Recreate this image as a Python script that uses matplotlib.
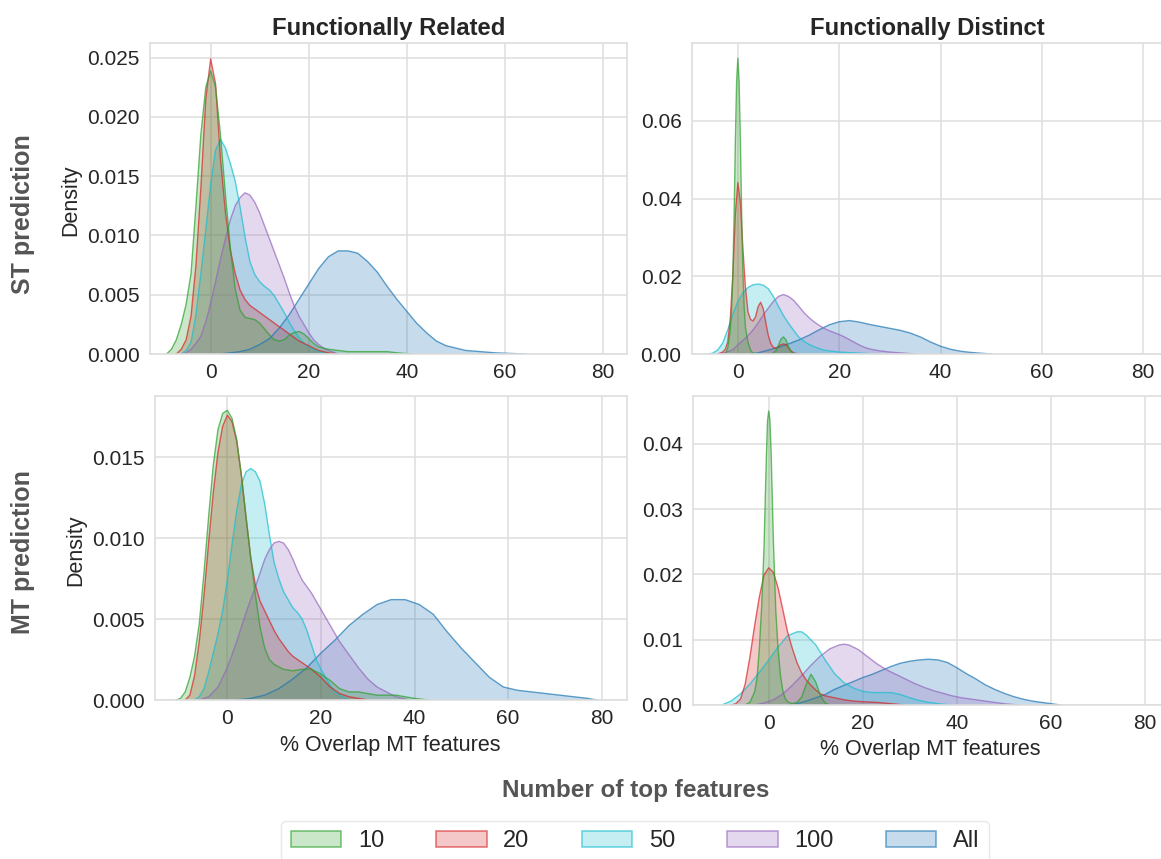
import matplotlib
matplotlib.use("Agg")
import matplotlib.pyplot as plt
from matplotlib.patches import Patch

plt.rcParams['font.family'] = ['Liberation Sans', 'DejaVu Sans']

# ---------------- data (density curves) ----------------
HUE_LABELS = ['10', '20', '50', '100', 'All']
HUE_COLORS = ['#2ca02c', '#d62728', '#17becf', '#9467bd', '#1f77b4']
COL_TITLES = ['Functionally Related', 'Functionally Distinct']
ROW_LABELS = ['ST prediction', 'MT prediction']
X_LABEL = '% Overlap MT features'
Y_LABEL = 'Density'
LEGEND_TITLE = 'Number of top features'
X_TICKS = [0, 20, 40, 60, 80]

# ST prediction / Functionally Related
ST_REL_10_X = [-9, -8, -7, -6, -5, -4, -3, -2, -1, 0, 1, 2, 3, 4, 5, 6, 7, 8, 9, 10, 11, 12, 13, 14, 15,
               16, 17, 18, 19, 20, 21, 22, 24, 26, 28, 30, 33, 36, 38, 41]
ST_REL_10_Y = [0, 0.0004, 0.0012, 0.0025, 0.0042, 0.0068, 0.0125, 0.0185, 0.0225, 0.0239, 0.0225, 0.0185,
               0.0135, 0.0090, 0.0055, 0.0037, 0.0031, 0.0030, 0.0029, 0.0026, 0.0021, 0.0016, 0.0012, 0.0011,
               0.0012, 0.0016, 0.0018, 0.0019, 0.0017, 0.0013, 0.0009, 0.0006, 0.0004, 0.0003, 0.0002, 0.0002,
               0.0002, 0.0002, 0.0001, 0]
ST_REL_20_X = [-7, -6, -5, -4, -3, -2, -1, 0, 1, 2, 3, 4, 5, 6, 7, 8, 9, 10, 11, 12, 13, 14, 15, 16, 17, 18,
               19, 20, 21, 22, 24, 26]
ST_REL_20_Y = [0, 0.0004, 0.0012, 0.0032, 0.0075, 0.0140, 0.0215, 0.0249, 0.0228, 0.0165, 0.0120, 0.0088,
               0.0068, 0.0054, 0.0046, 0.0041, 0.0038, 0.0035, 0.0032, 0.0029, 0.0026, 0.0023, 0.0020, 0.0017,
               0.0014, 0.0011, 0.0009, 0.0007, 0.0005, 0.0003, 0.0001, 0]
ST_REL_50_X = [-6, -5, -4, -3, -2, -1, 0, 1, 2, 3, 4, 5, 6, 7, 8, 9, 10, 11, 12, 13, 14, 15, 16, 17, 18, 19,
               20, 21, 22, 24]
ST_REL_50_Y = [0, 0.0003, 0.0010, 0.0033, 0.0068, 0.0105, 0.0143, 0.0172, 0.0181, 0.0174, 0.0161, 0.0146,
               0.0124, 0.0099, 0.0078, 0.0067, 0.0061, 0.0057, 0.0054, 0.0049, 0.0042, 0.0035, 0.0027, 0.0020,
               0.0014, 0.0009, 0.0006, 0.0004, 0.0002, 0]
ST_REL_100_X = [-6, -5, -4, -3, -2, -1, 0, 1, 2, 3, 4, 5, 6, 7, 8, 9, 10, 11, 12, 13, 14, 15, 16, 17, 18, 19,
                20, 21, 22, 23, 24, 26]
ST_REL_100_Y = [0, 0.0001, 0.0004, 0.0009, 0.0015, 0.0027, 0.0043, 0.0061, 0.0080, 0.0097, 0.0113, 0.0125,
                0.0132, 0.0136, 0.0134, 0.0128, 0.0119, 0.0108, 0.0097, 0.0086, 0.0075, 0.0064, 0.0052, 0.0041,
                0.0032, 0.0025, 0.0018, 0.0012, 0.0008, 0.0005, 0.0003, 0]
ST_REL_ALL_X = [2, 4, 6, 8, 10, 12, 14, 16, 18, 20, 22, 24, 26, 28, 30, 32, 34, 36, 38, 40, 42, 44, 46, 48,
                50, 52, 55, 58, 61, 64]
ST_REL_ALL_Y = [0, 0.0001, 0.0002, 0.0004, 0.0008, 0.0013, 0.0022, 0.0033, 0.0046, 0.0059, 0.0072, 0.0082,
                0.0087, 0.0087, 0.0085, 0.0078, 0.0069, 0.0057, 0.0046, 0.0036, 0.0026, 0.0018, 0.0011, 0.0007,
                0.0005, 0.0003, 0.0002, 0.0001, 0.00005, 0]

# ST prediction / Functionally Distinct
ST_DIS_10_X = [-2.5, -2, -1.5, -1.25, -1, -0.75, -0.5, -0.25, 0, 0.25, 0.5, 0.75, 1, 1.25, 1.5, 2, 2.5, 3,
               3.5, 6.5, 7, 7.5, 8, 8.5, 9, 9.5, 10, 10.5, 11, 11.5]
ST_DIS_10_Y = [0, 0.0015, 0.0060, 0.0110, 0.0200, 0.0350, 0.0540, 0.0700, 0.0761, 0.0700, 0.0550, 0.0360,
               0.0210, 0.0120, 0.0068, 0.0030, 0.0010, 0.0002, 0, 0, 0.0002, 0.0008, 0.0022, 0.0038, 0.0044,
               0.0036, 0.0018, 0.0006, 0.0001, 0]
ST_DIS_20_X = [-4, -3, -2.5, -2, -1.5, -1, -0.5, 0, 0.5, 1, 1.5, 2, 2.5, 3, 3.5, 4, 4.5, 5, 5.5, 6, 6.5, 7,
               7.5, 8, 8.5, 9, 9.5, 10, 10.5, 11, 12]
ST_DIS_20_Y = [0, 0.0005, 0.0012, 0.0030, 0.0090, 0.0200, 0.0360, 0.0441, 0.0390, 0.0270, 0.0170, 0.0108,
               0.0089, 0.0085, 0.0096, 0.0122, 0.0133, 0.0117, 0.0082, 0.0048, 0.0027, 0.0017, 0.0015, 0.0019,
               0.0024, 0.0026, 0.0024, 0.0016, 0.0008, 0.0003, 0]
ST_DIS_50_X = [-6, -5, -4, -3, -2, -1, 0, 1, 2, 3, 4, 5, 6, 7, 8, 9, 10, 11, 12, 13, 14, 15, 16, 17, 18, 20,
               23, 27]
ST_DIS_50_Y = [0, 0.0002, 0.0010, 0.0028, 0.0062, 0.0101, 0.0136, 0.0157, 0.0171, 0.0178, 0.0180, 0.0177,
               0.0168, 0.0148, 0.0123, 0.0099, 0.0079, 0.0061, 0.0044, 0.0033, 0.0025, 0.0019, 0.0014, 0.0010,
               0.0008, 0.0005, 0.0003, 0]
ST_DIS_100_X = [-4, -3, -2, -1, 0, 1, 2, 3, 4, 5, 6, 7, 8, 9, 10, 11, 12, 13, 14, 15, 16, 17, 18, 19, 20, 21,
                22, 23, 24, 25, 26, 28, 30, 32, 35]
ST_DIS_100_Y = [0, 0.0002, 0.0006, 0.0011, 0.0024, 0.0035, 0.0047, 0.0062, 0.0080, 0.0100, 0.0118, 0.0135,
                0.0148, 0.0153, 0.0148, 0.0138, 0.0123, 0.0107, 0.0094, 0.0083, 0.0074, 0.0066, 0.0060, 0.0055,
                0.0050, 0.0044, 0.0037, 0.0030, 0.0023, 0.0017, 0.0013, 0.0008, 0.0005, 0.0003, 0]
ST_DIS_ALL_X = [2, 4, 6, 8, 10, 12, 14, 16, 18, 20, 22, 24, 26, 28, 30, 32, 34, 36, 38, 40, 42, 44, 46, 48,
                50]
ST_DIS_ALL_Y = [0, 0.0003, 0.0010, 0.0017, 0.0026, 0.0036, 0.0048, 0.0062, 0.0075, 0.0083, 0.0086, 0.0082,
                0.0076, 0.0071, 0.0066, 0.0061, 0.0054, 0.0044, 0.0031, 0.0020, 0.0012, 0.0007, 0.0004, 0.0002,
                0]

# MT prediction / Functionally Related
MT_REL_10_X = [-11, -10, -9, -8, -7, -6, -5, -4, -3, -2, -1, 0, 1, 2, 3, 4, 5, 6, 7, 8, 9, 10, 12, 14, 16,
               18, 20, 22, 24, 26, 28, 32, 36, 40, 43]
MT_REL_10_Y = [0, 0.0001, 0.0005, 0.0014, 0.0027, 0.0047, 0.0078, 0.0113, 0.0145, 0.0167, 0.0177, 0.0179,
               0.0174, 0.0161, 0.0139, 0.0113, 0.0088, 0.0065, 0.0045, 0.0032, 0.0025, 0.0022, 0.0019, 0.0018,
               0.0019, 0.0019, 0.0016, 0.0012, 0.0007, 0.0005, 0.0005, 0.0003, 0.0003, 0.0001, 0]
MT_REL_20_X = [-9, -8, -7, -6, -5, -4, -3, -2, -1, 0, 1, 2, 3, 4, 5, 6, 7, 8, 9, 10, 11, 12, 13, 14, 15, 16,
               18, 20, 22, 24, 26, 28, 30]
MT_REL_20_Y = [0, 0.0003, 0.0015, 0.0036, 0.0064, 0.0097, 0.0128, 0.0153, 0.0169, 0.0176, 0.0172, 0.0160,
               0.0139, 0.0113, 0.0088, 0.0071, 0.0061, 0.0055, 0.0049, 0.0043, 0.0038, 0.0034, 0.0030, 0.0027,
               0.0025, 0.0023, 0.0019, 0.0014, 0.0008, 0.0004, 0.0002, 0.0001, 0]
MT_REL_50_X = [-7, -6, -5, -4, -3, -2, -1, 0, 1, 2, 3, 4, 5, 6, 7, 8, 9, 10, 11, 12, 13, 14, 15, 16, 17, 18,
               19, 20, 21, 22, 23, 24, 26]
MT_REL_50_Y = [0, 0.0002, 0.0007, 0.0017, 0.0029, 0.0041, 0.0055, 0.0074, 0.0096, 0.0117, 0.0133, 0.0141,
               0.0143, 0.0141, 0.0135, 0.0121, 0.0102, 0.0085, 0.0075, 0.0067, 0.0062, 0.0057, 0.0054, 0.0050,
               0.0043, 0.0034, 0.0025, 0.0019, 0.0014, 0.0009, 0.0005, 0.0003, 0]
MT_REL_100_X = [-6, -4, -2, 0, 2, 4, 6, 8, 9, 10, 11, 12, 13, 14, 15, 16, 18, 20, 22, 24, 26, 28, 30, 32, 34,
                36, 39]
MT_REL_100_Y = [0, 0.0002, 0.0008, 0.0020, 0.0036, 0.0054, 0.0070, 0.0087, 0.0093, 0.0097, 0.0098, 0.0097,
                0.0093, 0.0087, 0.0080, 0.0074, 0.0066, 0.0056, 0.0046, 0.0036, 0.0028, 0.0020, 0.0013, 0.0008,
                0.0005, 0.0002, 0]
MT_REL_ALL_X = [2, 5, 8, 11, 14, 17, 20, 23, 26, 29, 32, 35, 38, 41, 44, 47, 50, 53, 56, 59, 62, 65, 68, 71,
                74, 77, 79]
MT_REL_ALL_Y = [0, 0.0001, 0.0003, 0.0007, 0.0013, 0.0020, 0.0029, 0.0037, 0.0046, 0.0053, 0.0059, 0.0062,
                0.0062, 0.0059, 0.0053, 0.0042, 0.0032, 0.0023, 0.0014, 0.0008, 0.0006, 0.0005, 0.0004, 0.0003,
                0.0002, 0.0001, 0]

# MT prediction / Functionally Distinct
MT_DIS_10_X = [-5, -4, -3, -2.5, -2, -1.5, -1, -0.5, -0.25, 0, 0.25, 0.5, 1, 1.5, 2, 2.5, 3, 3.5, 4, 5, 6,
               7, 8, 9, 10, 11, 12, 13]
MT_DIS_10_Y = [0, 0.0004, 0.0020, 0.0040, 0.0085, 0.0150, 0.0240, 0.0380, 0.0435, 0.0450, 0.0437, 0.0390,
               0.0250, 0.0145, 0.0085, 0.0045, 0.0022, 0.0010, 0.0005, 0.0002, 0.0004, 0.0012, 0.0032, 0.0047,
               0.0035, 0.0014, 0.0003, 0]
MT_DIS_20_X = [-8, -7, -6, -5, -4, -3, -2, -1, 0, 1, 2, 3, 4, 5, 6, 7, 8, 9, 10, 11, 12, 14, 16, 18, 20, 23,
               26, 29]
MT_DIS_20_Y = [0, 0.0002, 0.0009, 0.0032, 0.0073, 0.0121, 0.0165, 0.0199, 0.0210, 0.0203, 0.0179, 0.0146,
               0.0112, 0.0087, 0.0065, 0.0049, 0.0038, 0.0030, 0.0023, 0.0017, 0.0014, 0.0011, 0.0008, 0.0006,
               0.0005, 0.0004, 0.0002, 0]
MT_DIS_50_X = [-10, -8, -6, -4, -2, 0, 2, 4, 6, 7, 8, 10, 12, 14, 16, 18, 20, 22, 24, 26, 28, 30, 32, 34, 36,
               39]
MT_DIS_50_Y = [0, 0.0006, 0.0017, 0.0032, 0.0050, 0.0069, 0.0089, 0.0106, 0.0112, 0.0112, 0.0107, 0.0092,
               0.0069, 0.0048, 0.0034, 0.0026, 0.0021, 0.0019, 0.0019, 0.0019, 0.0016, 0.0011, 0.0007, 0.0004,
               0.0002, 0]
MT_DIS_100_X = [-3, -1, 1, 3, 5, 7, 9, 11, 13, 15, 16, 17, 19, 21, 23, 25, 27, 29, 31, 33, 35, 37, 39, 41,
                43, 45, 47, 50, 53]
MT_DIS_100_Y = [0, 0.0003, 0.0008, 0.0017, 0.0030, 0.0045, 0.0061, 0.0075, 0.0086, 0.0092, 0.0093, 0.0092,
                0.0085, 0.0074, 0.0063, 0.0054, 0.0047, 0.0040, 0.0033, 0.0027, 0.0022, 0.0018, 0.0014, 0.0011,
                0.0009, 0.0007, 0.0005, 0.0002, 0]
MT_DIS_ALL_X = [4, 6, 8, 10, 12, 14, 16, 18, 20, 22, 24, 26, 28, 30, 32, 34, 36, 38, 40, 42, 44, 46, 48, 50,
                52, 54, 56, 58, 60, 62]
MT_DIS_ALL_Y = [0, 0.0002, 0.0006, 0.0011, 0.0016, 0.0024, 0.0030, 0.0036, 0.0042, 0.0047, 0.0053, 0.0059,
                0.0064, 0.0067, 0.0069, 0.0070, 0.0069, 0.0065, 0.0057, 0.0048, 0.0040, 0.0031, 0.0024, 0.0018,
                0.0013, 0.0009, 0.0006, 0.0004, 0.0002, 0]

ST_REL = [(ST_REL_10_X, ST_REL_10_Y), (ST_REL_20_X, ST_REL_20_Y), (ST_REL_50_X, ST_REL_50_Y),
          (ST_REL_100_X, ST_REL_100_Y), (ST_REL_ALL_X, ST_REL_ALL_Y)]
ST_DIS = [(ST_DIS_10_X, ST_DIS_10_Y), (ST_DIS_20_X, ST_DIS_20_Y), (ST_DIS_50_X, ST_DIS_50_Y),
          (ST_DIS_100_X, ST_DIS_100_Y), (ST_DIS_ALL_X, ST_DIS_ALL_Y)]
MT_REL = [(MT_REL_10_X, MT_REL_10_Y), (MT_REL_20_X, MT_REL_20_Y), (MT_REL_50_X, MT_REL_50_Y),
          (MT_REL_100_X, MT_REL_100_Y), (MT_REL_ALL_X, MT_REL_ALL_Y)]
MT_DIS = [(MT_DIS_10_X, MT_DIS_10_Y), (MT_DIS_20_X, MT_DIS_20_Y), (MT_DIS_50_X, MT_DIS_50_Y),
          (MT_DIS_100_X, MT_DIS_100_Y), (MT_DIS_ALL_X, MT_DIS_ALL_Y)]

# ---------------- layout ----------------
W, H = 1161, 859
fig = plt.figure(figsize=(W / 100, H / 100), dpi=100)
fig.patch.set_facecolor('white')


def rect(l, t, r, b):
    return [l / W, 1 - b / H, (r - l) / W, (b - t) / H]


panels = [
    # data, rect px (l, t, r, b), xlim, ylim, yticks, yfmt
    (ST_REL, (150, 43, 627, 354), (-12.37, 84.9), (0, 0.02624), [0, 0.005, 0.010, 0.015, 0.020, 0.025], '{:.3f}'),
    (ST_DIS, (692, 43, 1163, 354), (-9.05, 83.9), (0, 0.0800), [0, 0.02, 0.04, 0.06], '{:.2f}'),
    (MT_REL, (155, 396, 627, 700), (-15.45, 85.4), (0, 0.01878), [0, 0.005, 0.010, 0.015], '{:.3f}'),
    (MT_DIS, (693, 396, 1163, 705), (-16.09, 83.8), (0, 0.0473), [0, 0.01, 0.02, 0.03, 0.04], '{:.2f}'),
]

GRID = '#dedede'
TXT = '#262626'
for data, r, xl, yl, yt, fmt in panels:
    ax = fig.add_axes(rect(*r))
    ax.set_facecolor('white')
    ax.set_axisbelow(True)
    ax.grid(True, color=GRID, linewidth=1.1)
    for s in ax.spines.values():
        s.set_color(GRID)
        s.set_linewidth(1.2)
    for i in reversed(range(len(data))):
        xs, ys = data[i]
        c = HUE_COLORS[i]
        ax.fill_between(xs, ys, 0, facecolor=c, alpha=0.25, linewidth=0)
        ax.plot(xs, ys, color=c, linewidth=1.0, alpha=0.7)
    ax.set_xlim(*xl)
    ax.set_ylim(*yl)
    ax.set_xticks(X_TICKS)
    ax.set_yticks(yt)
    ax.set_yticklabels([fmt.format(v) for v in yt])
    ax.tick_params(axis='x', length=0, pad=6.5, labelsize=15, labelcolor=TXT)
    ax.tick_params(axis='y', length=0, pad=7.5, labelsize=15, labelcolor=TXT)

# column titles
fig.text(388.5 / W, 1 - 35 / H, COL_TITLES[0], ha='center', va='baseline', fontsize=17.2,
         fontweight='bold', color=TXT)
fig.text(927.5 / W, 1 - 35 / H, COL_TITLES[1], ha='center', va='baseline', fontsize=17.2,
         fontweight='bold', color=TXT)

# row labels
fig.text(23 / W, 1 - 214 / H, ROW_LABELS[0], rotation=90, ha='center', va='center', fontsize=18,
         fontweight='bold', color='#555555')
fig.text(23 / W, 1 - 552 / H, ROW_LABELS[1], rotation=90, ha='center', va='center', fontsize=18,
         fontweight='bold', color='#555555')

# y labels
fig.text(71 / W, 1 - 200 / H, Y_LABEL, rotation=90, ha='center', va='center', fontsize=15.5, color=TXT)
fig.text(76 / W, 1 - 550 / H, Y_LABEL, rotation=90, ha='center', va='center', fontsize=15.5, color=TXT)

# x labels
fig.text(390 / W, 1 - 745 / H, X_LABEL, ha='center', va='center', fontsize=15.5, color=TXT)
fig.text(930 / W, 1 - 749 / H, X_LABEL, ha='center', va='center', fontsize=15.5, color=TXT)

# legend
fig.text(636 / W, 1 - 791 / H, LEGEND_TITLE, ha='center', va='center', fontsize=17.5,
         fontweight='bold', color='#555555')
handles = [Patch(facecolor=matplotlib.colors.to_rgba(c, 0.25), edgecolor=matplotlib.colors.to_rgba(c, 0.6),
                 linewidth=1.2) for c in HUE_COLORS]
leg = fig.legend(handles, HUE_LABELS, loc='upper center', bbox_to_anchor=(635 / W, 1 - 821 / H),
                 ncol=5, fontsize=17, frameon=True, fancybox=True, handlelength=2.15, handleheight=0.7,
                 handletextpad=0.7, columnspacing=2.2, borderpad=0.4, borderaxespad=0.0)
leg.get_frame().set_edgecolor('#e3e3e3')
leg.get_frame().set_linewidth(1.0)
for t in leg.get_texts():
    t.set_color(TXT)

fig.savefig('out.png', dpi=100, facecolor='white')
